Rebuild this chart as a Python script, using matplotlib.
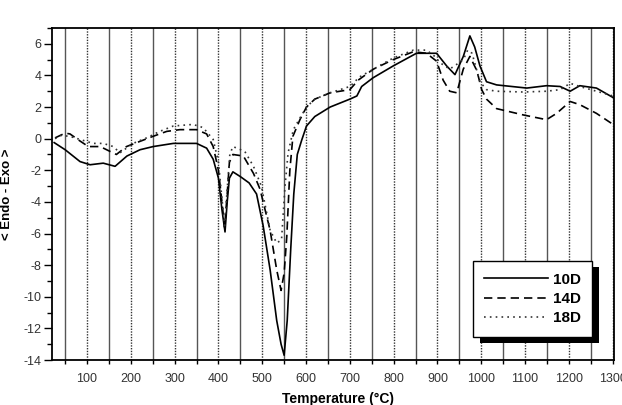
import matplotlib.pyplot as plt
from matplotlib.patches import Rectangle
from matplotlib.ticker import MultipleLocator

# sample 10D (solid)
t_10 = [25, 50, 84, 107, 137, 164, 191, 221, 251, 297, 350, 373, 388, 400, 408, 415, 420, 425, 433,
        450, 470, 487, 502, 518, 533, 543, 550, 557, 565, 572, 580, 590, 601, 620, 655, 700, 716,
        727, 753, 799, 852, 898, 921, 940, 959, 974, 985, 997, 1012, 1035, 1104, 1149, 1180, 1203,
        1225, 1263, 1301]
v_10 = [-0.25, -0.7, -1.45, -1.65, -1.55, -1.75, -1.1, -0.7, -0.5, -0.3, -0.3, -0.6, -1.3, -2.5,
        -4.5, -5.9, -4.0, -2.5, -2.1, -2.4, -2.8, -3.5, -5.5, -8.3, -11.5, -13.0, -13.7, -11.5,
        -7.0, -3.5, -1.0, -0.1, 0.8, 1.4, 2.0, 2.5, 2.7, 3.3, 3.85, 4.6, 5.4, 5.4, 4.6, 4.05, 5.2,
        6.5, 5.8, 4.6, 3.6, 3.4, 3.2, 3.35, 3.3, 3.0, 3.35, 3.2, 2.6]

# sample 14D (dashed)
t_14 = [27, 50, 61, 84, 103, 130, 152, 167, 190, 221, 251, 282, 312, 350, 373, 388, 400, 408, 414,
        420, 425, 433, 457, 480, 495, 518, 533, 543, 550, 556, 563, 570, 586, 601, 620, 655, 700,
        719, 754, 799, 845, 875, 898, 913, 928, 944, 959, 974, 990, 1001, 1012, 1035, 1096, 1149,
        1172, 1203, 1225, 1263, 1301]
v_14 = [0.05, 0.35, 0.3, -0.15, -0.5, -0.5, -0.8, -1.0, -0.5, -0.17, 0.15, 0.46, 0.57, 0.57, 0.3,
        -0.5, -2.0, -4.0, -5.6, -3.5, -1.5, -1.0, -1.1, -2.2, -3.2, -5.8, -8.3, -9.6, -8.5, -6.2,
        -2.0, 0.15, 1.2, 2.0, 2.5, 2.9, 3.1, 3.7, 4.4, 5.0, 5.5, 5.4, 4.9, 3.7, 3.0, 2.9, 4.4, 5.2,
        4.3, 3.1, 2.5, 1.9, 1.5, 1.2, 1.6, 2.35, 2.15, 1.6, 0.9]

# sample 18D (dotted)
t_18 = [27, 40, 60, 84, 114, 137, 160, 175, 205, 236, 266, 297, 342, 365, 388, 400, 408, 414, 420,
        426, 433, 460, 480, 498, 518, 533, 544, 552, 559, 571, 586, 601, 620, 655, 700, 722, 754,
        799, 845, 875, 894, 906, 928, 944, 959, 969, 979, 997, 1012, 1035, 1096, 1149, 1180, 1203,
        1225, 1263, 1301]
v_18 = [0.0, 0.2, 0.15, -0.05, -0.3, -0.3, -0.5, -0.9, -0.3, 0.05, 0.46, 0.8, 0.9, 0.7, -0.05,
        -1.5, -3.8, -5.5, -3.2, -1.0, -0.5, -0.8, -1.75, -3.0, -5.8, -6.6, -6.4, -3.0, -0.9, 0.57,
        1.3, 2.0, 2.5, 2.9, 3.3, 3.9, 4.4, 5.1, 5.6, 5.6, 5.2, 4.8, 4.4, 4.7, 5.0, 5.6, 5.4, 3.6,
        3.1, 3.0, 2.95, 3.0, 3.1, 3.5, 3.3, 3.0, 2.7]

labels = ['10D', '14D', '18D']

plt.rcParams['font.family'] = ['Liberation Sans', 'DejaVu Sans']
plt.rcParams['axes.unicode_minus'] = False

fig = plt.figure(figsize=(6.22, 4.05), dpi=100)
ax = fig.add_axes([0.0836, 0.1111, 0.9035, 0.8198])

# vertical grid: solid grey at the 50s, dotted at the 100s
for xv in range(50, 1300, 100):
    ax.axvline(xv, color='#555555', lw=1.0, zorder=0)
for xv in range(100, 1301, 100):
    ax.axvline(xv, color='#333333', lw=1.0, ls=(0, (1, 1)), zorder=0)

ax.plot(t_10, v_10, color='black', lw=1.2, label=labels[0])
ax.plot(t_14, v_14, color='black', lw=1.2, ls=(0, (5, 3)), label=labels[1])
ax.plot(t_18, v_18, color='#333333', lw=1.2, ls=(0, (1, 2.5)), label=labels[2])

ax.set_xlim(20, 1303)
ax.set_ylim(-14, 7)
ax.xaxis.set_major_locator(MultipleLocator(100))
ax.xaxis.set_minor_locator(MultipleLocator(50))
ax.yaxis.set_major_locator(MultipleLocator(2))
ax.yaxis.set_minor_locator(MultipleLocator(1))
ax.tick_params(which='major', direction='out', width=1.0, labelsize=9, colors='black', pad=2)
ax.tick_params(axis='y', which='major', length=5.5)
ax.tick_params(axis='y', which='minor', length=3.5, width=1.0)
ax.tick_params(axis='x', which='both', length=3, width=1.0)
ax.tick_params(axis='x', which='major', pad=6)
for lbl in ax.get_xticklabels() + ax.get_yticklabels():
    lbl.set_color('#333333')
for s in ax.spines.values():
    s.set_linewidth(1.3)

ax.set_xlabel('Temperature (°C)', fontsize=10, fontweight='bold')
ax.xaxis.set_label_coords(0.509, -0.097)
ax.set_ylabel('< Endo - Exo >', fontsize=9.5, fontweight='bold')
ax.yaxis.set_label_coords(-0.07, 0.5)

leg = ax.legend(loc='lower right', bbox_to_anchor=(0.975, 0.047), fancybox=False,
                edgecolor='black', framealpha=1, handlelength=4.2, handletextpad=0.3,
                borderpad=0.75, labelspacing=0.35, prop={'weight': 'bold', 'size': 11})
leg.get_frame().set_linewidth(1.0)
leg.set_zorder(5)

# solid black drop shadow behind the legend box
fig.canvas.draw()
bb = leg.get_window_extent().transformed(ax.transAxes.inverted())
dx, dy = 7 / 562, -6 / 332
ax.add_patch(Rectangle((bb.x0 + dx, bb.y0 + dy), bb.width, bb.height, transform=ax.transAxes,
                       facecolor='black', edgecolor='none', zorder=4, clip_on=False))

fig.savefig('out.png', dpi=100)
